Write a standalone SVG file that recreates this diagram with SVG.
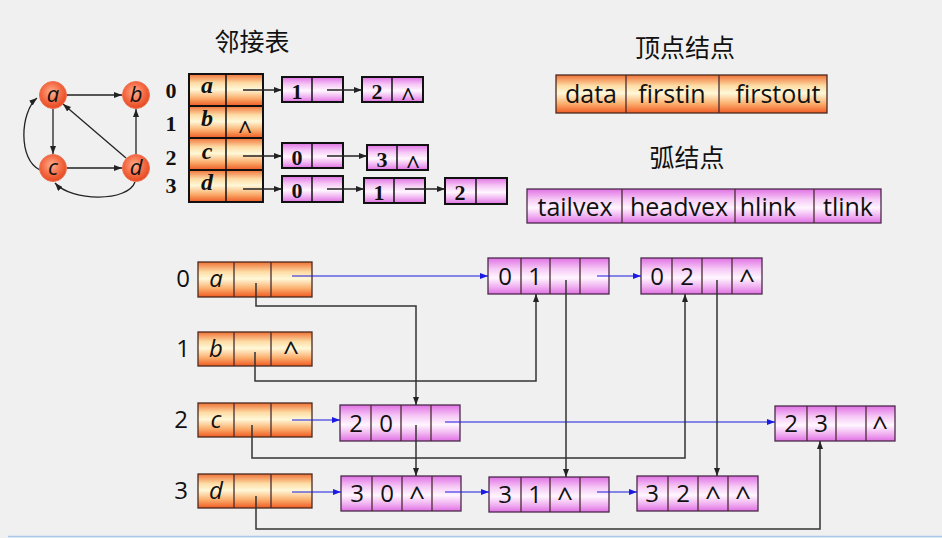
<svg xmlns="http://www.w3.org/2000/svg" width="942" height="538" viewBox="0 0 942 538">
<defs>
<linearGradient id="vg" x1="0" y1="0" x2="0" y2="1">
<stop offset="0" stop-color="#f07035"/>
<stop offset="0.28" stop-color="#fddca4"/>
<stop offset="0.48" stop-color="#fff8d8"/>
<stop offset="0.75" stop-color="#fbb070"/>
<stop offset="1" stop-color="#f05a22"/>
</linearGradient>
<linearGradient id="pg" x1="0" y1="0" x2="0" y2="1">
<stop offset="0" stop-color="#e070e4"/>
<stop offset="0.3" stop-color="#f6c8f6"/>
<stop offset="0.55" stop-color="#fff6ff"/>
<stop offset="0.8" stop-color="#f0b0f0"/>
<stop offset="1" stop-color="#e070e4"/>
</linearGradient>
<radialGradient id="cg" cx="0.45" cy="0.4" r="0.6">
<stop offset="0" stop-color="#ffb090"/>
<stop offset="0.6" stop-color="#f46a44"/>
<stop offset="1" stop-color="#e44820"/>
</radialGradient>
<marker id="ak" markerWidth="8" markerHeight="6" refX="8" refY="3" orient="auto" markerUnits="userSpaceOnUse">
<path d="M0,0 L8,3 L0,6 z" fill="#222"/>
</marker>
<marker id="ab" markerWidth="8" markerHeight="6" refX="8" refY="3" orient="auto" markerUnits="userSpaceOnUse">
<path d="M0,0 L8,3 L0,6 z" fill="#1a1ae0"/>
</marker>
</defs>
<style>
.bg{fill:#f0f0f0}
.v{fill:url(#vg);stroke:#4a2a20;stroke-width:1.3}
.p{fill:url(#pg);stroke:#4a2a4a;stroke-width:1.3}
.vt{fill:url(#vg);stroke:#111;stroke-width:2}
.pt{fill:url(#pg);stroke:#111;stroke-width:2}
.dv{stroke:#4a2a30;stroke-width:1.3}
.dt{stroke:#111;stroke-width:1.5}
.s{font-family:"Open Sans","Noto Sans",sans-serif;fill:#111}
.si{font-family:"Open Sans","Noto Sans",sans-serif;font-style:italic;fill:#111}
.sr{font-family:"Liberation Serif","Times New Roman",serif;font-weight:bold;fill:#111}
.sri{font-family:"Liberation Serif","Times New Roman",serif;font-weight:bold;font-style:italic;fill:#111}
.cjk{font-family:"Noto Sans CJK SC","Noto Sans",sans-serif;fill:#111}
.k{fill:none;stroke:#333;stroke-width:1.5}
.kb{fill:none;stroke:#1a1ae0;stroke-width:1.2}
.g{fill:none;stroke:#222;stroke-width:1.3}
.c{fill:url(#cg);stroke:#f07050;stroke-width:1}
</style>
<rect class="bg" x="0" y="0" width="942" height="538"/>
<line x1="8" y1="536.5" x2="942" y2="536.5" stroke="#a8c8ea" stroke-width="1.5"/>

<!-- small graph -->
<g id="graph-edges">
<line class="g" x1="66" y1="95" x2="122" y2="95" marker-end="url(#ak)"/>
<line class="g" x1="53" y1="109" x2="53" y2="154" marker-end="url(#ak)"/>
<line class="g" x1="126" y1="158" x2="63" y2="104" marker-end="url(#ak)"/>
<line class="g" x1="136" y1="155" x2="136" y2="109" marker-end="url(#ak)"/>
<line class="g" x1="67" y1="168" x2="122" y2="168" marker-end="url(#ak)"/>
<path class="g" d="M40,170 C18,160 20,112 37,98" marker-end="url(#ak)"/>
<path class="g" d="M135,182 C128,202 72,202 55,183" marker-end="url(#ak)"/>
</g>
<g id="gn-a"><circle class="c" cx="53" cy="95" r="13.5"/><text class="si" x="53" y="102" font-size="22" text-anchor="middle">a</text></g>
<g id="gn-b"><circle class="c" cx="136" cy="95" r="13.5"/><text class="si" x="136" y="102" font-size="22" text-anchor="middle">b</text></g>
<g id="gn-c"><circle class="c" cx="53" cy="168" r="13.5"/><text class="si" x="53" y="175" font-size="22" text-anchor="middle">c</text></g>
<g id="gn-d"><circle class="c" cx="136" cy="168" r="13.5"/><text class="si" x="136" y="175" font-size="22" text-anchor="middle">d</text></g>

<!-- adjacency list -->
<text class="cjk" x="252" y="51" font-size="25" text-anchor="middle">邻接表</text>
<g id="adj-table">
<rect class="vt" x="189" y="74" width="74" height="32"/>
<rect class="vt" x="189" y="106" width="74" height="32"/>
<rect class="vt" x="189" y="138" width="74" height="32"/>
<rect class="vt" x="189" y="170" width="74" height="32"/>
<line class="dt" x1="226" y1="74" x2="226" y2="202"/>
<text class="sr" x="171" y="98" font-size="22" text-anchor="middle">0</text>
<text class="sr" x="171" y="131" font-size="22" text-anchor="middle">1</text>
<text class="sr" x="171" y="165" font-size="22" text-anchor="middle">2</text>
<text class="sr" x="171" y="193" font-size="22" text-anchor="middle">3</text>
<text class="sri" x="207" y="93" font-size="24" text-anchor="middle">a</text>
<text class="sri" x="207" y="126" font-size="24" text-anchor="middle">b</text>
<text class="sri" x="207" y="159" font-size="24" text-anchor="middle">c</text>
<text class="sri" x="207" y="190" font-size="24" text-anchor="middle">d</text>
<text class="sr" x="245" y="138" font-size="26" text-anchor="middle">^</text>
</g>
<g id="adj-0-1"><rect class="pt" x="282" y="77" width="61" height="25"/><line class="dt" x1="312" y1="77" x2="312" y2="102"/><text class="sr" x="297" y="99" font-size="22" text-anchor="middle">1</text></g>
<g id="adj-0-2"><rect class="pt" x="362" y="77" width="61" height="25"/><line class="dt" x1="392" y1="77" x2="392" y2="102"/><text class="sr" x="377" y="99" font-size="22" text-anchor="middle">2</text><text class="sr" x="408" y="105" font-size="26" text-anchor="middle">^</text></g>
<g id="adj-2-1"><rect class="pt" x="282" y="143" width="61" height="25"/><line class="dt" x1="312" y1="143" x2="312" y2="168"/><text class="sr" x="297" y="165" font-size="22" text-anchor="middle">0</text></g>
<g id="adj-2-2"><rect class="pt" x="367" y="145" width="61" height="25"/><line class="dt" x1="397" y1="145" x2="397" y2="170"/><text class="sr" x="382" y="167" font-size="22" text-anchor="middle">3</text><text class="sr" x="413" y="173" font-size="26" text-anchor="middle">^</text></g>
<g id="adj-3-1"><rect class="pt" x="282" y="176" width="61" height="26"/><line class="dt" x1="312" y1="176" x2="312" y2="202"/><text class="sr" x="297" y="198" font-size="22" text-anchor="middle">0</text></g>
<g id="adj-3-2"><rect class="pt" x="364" y="178" width="61" height="25"/><line class="dt" x1="394" y1="178" x2="394" y2="203"/><text class="sr" x="379" y="200" font-size="22" text-anchor="middle">1</text></g>
<g id="adj-3-3"><rect class="pt" x="445" y="178" width="62" height="26"/><line class="dt" x1="476" y1="178" x2="476" y2="204"/><text class="sr" x="460" y="200" font-size="22" text-anchor="middle">2</text></g>
<g id="adj-connectors">
<line class="g" x1="243" y1="90" x2="282" y2="90" marker-end="url(#ak)"/>
<line class="g" x1="327" y1="90" x2="362" y2="90" marker-end="url(#ak)"/>
<line class="g" x1="243" y1="156" x2="282" y2="156" marker-end="url(#ak)"/>
<line class="g" x1="327" y1="156" x2="367" y2="156" marker-end="url(#ak)"/>
<line class="g" x1="243" y1="189" x2="282" y2="189" marker-end="url(#ak)"/>
<line class="g" x1="327" y1="189" x2="364" y2="189" marker-end="url(#ak)"/>
<line class="g" x1="405" y1="189" x2="445" y2="189" marker-end="url(#ak)"/>
</g>

<!-- legend -->
<text class="cjk" x="685" y="57" font-size="25" text-anchor="middle">顶点结点</text>
<g id="vertex-legend">
<rect class="v" x="556" y="75" width="271" height="38"/>
<line class="dv" x1="626" y1="75" x2="626" y2="113"/>
<line class="dv" x1="719" y1="75" x2="719" y2="113"/>
<text class="s" x="591" y="103" font-size="25" text-anchor="middle">data</text>
<text class="s" x="672" y="103" font-size="25" text-anchor="middle">firstin</text>
<text class="s" x="778" y="103" font-size="25" text-anchor="middle">firstout</text>
</g>
<text class="cjk" x="687" y="167" font-size="25" text-anchor="middle">弧结点</text>
<g id="arc-legend">
<rect class="p" x="527" y="189" width="354" height="34"/>
<line class="dv" x1="622" y1="189" x2="622" y2="223"/>
<line class="dv" x1="735" y1="189" x2="735" y2="223"/>
<line class="dv" x1="814" y1="189" x2="814" y2="223"/>
<text class="s" x="575" y="216" font-size="25" text-anchor="middle">tailvex</text>
<text class="s" x="679" y="216" font-size="25" text-anchor="middle">headvex</text>
<text class="s" x="768" y="216" font-size="25" text-anchor="middle">hlink</text>
<text class="s" x="848" y="216" font-size="25" text-anchor="middle">tlink</text>
</g>

<!-- orthogonal list vertices -->
<g id="v0">
<text class="s" x="183" y="287" font-size="24" text-anchor="middle">0</text>
<rect class="v" x="198" y="262" width="114" height="35"/>
<line class="dv" x1="234" y1="262" x2="234" y2="297"/><line class="dv" x1="271" y1="262" x2="271" y2="297"/>
<text class="si" x="216" y="287" font-size="24" text-anchor="middle">a</text>
</g>
<g id="v1">
<text class="s" x="183" y="357" font-size="24" text-anchor="middle">1</text>
<rect class="v" x="198" y="332" width="114" height="34"/>
<line class="dv" x1="234" y1="332" x2="234" y2="366"/><line class="dv" x1="271" y1="332" x2="271" y2="366"/>
<text class="si" x="216" y="357" font-size="24" text-anchor="middle">b</text>
<text class="s" x="291" y="361" font-size="28" text-anchor="middle">^</text>
</g>
<g id="v2">
<text class="s" x="181" y="428" font-size="24" text-anchor="middle">2</text>
<rect class="v" x="198" y="403" width="114" height="34"/>
<line class="dv" x1="234" y1="403" x2="234" y2="437"/><line class="dv" x1="271" y1="403" x2="271" y2="437"/>
<text class="si" x="216" y="428" font-size="24" text-anchor="middle">c</text>
</g>
<g id="v3">
<text class="s" x="181" y="499" font-size="24" text-anchor="middle">3</text>
<rect class="v" x="198" y="474" width="114" height="34"/>
<line class="dv" x1="234" y1="474" x2="234" y2="508"/><line class="dv" x1="271" y1="474" x2="271" y2="508"/>
<text class="si" x="216" y="499" font-size="24" text-anchor="middle">d</text>
</g>

<!-- arc nodes -->
<g id="arc01">
<rect class="p" x="488" y="258" width="121" height="36"/>
<line class="dv" x1="521" y1="258" x2="521" y2="294"/><line class="dv" x1="550" y1="258" x2="550" y2="294"/><line class="dv" x1="580" y1="258" x2="580" y2="294"/>
<text class="s" x="505" y="285" font-size="24" text-anchor="middle">0</text>
<text class="s" x="535" y="285" font-size="24" text-anchor="middle">1</text>
</g>
<g id="arc02">
<rect class="p" x="641" y="258" width="121" height="36"/>
<line class="dv" x1="672" y1="258" x2="672" y2="294"/><line class="dv" x1="702" y1="258" x2="702" y2="294"/><line class="dv" x1="732" y1="258" x2="732" y2="294"/>
<text class="s" x="657" y="285" font-size="24" text-anchor="middle">0</text>
<text class="s" x="687" y="285" font-size="24" text-anchor="middle">2</text>
<text class="s" x="747" y="289" font-size="28" text-anchor="middle">^</text>
</g>
<g id="arc20">
<rect class="p" x="340" y="405" width="120" height="36"/>
<line class="dv" x1="371" y1="405" x2="371" y2="441"/><line class="dv" x1="401" y1="405" x2="401" y2="441"/><line class="dv" x1="431" y1="405" x2="431" y2="441"/>
<text class="s" x="356" y="432" font-size="24" text-anchor="middle">2</text>
<text class="s" x="386" y="432" font-size="24" text-anchor="middle">0</text>
</g>
<g id="arc23">
<rect class="p" x="775" y="406" width="120" height="35"/>
<line class="dv" x1="807" y1="406" x2="807" y2="441"/><line class="dv" x1="836" y1="406" x2="836" y2="441"/><line class="dv" x1="866" y1="406" x2="866" y2="441"/>
<text class="s" x="791" y="432" font-size="24" text-anchor="middle">2</text>
<text class="s" x="821" y="432" font-size="24" text-anchor="middle">3</text>
<text class="s" x="880" y="436" font-size="28" text-anchor="middle">^</text>
</g>
<g id="arc30">
<rect class="p" x="341" y="476" width="120" height="35"/>
<line class="dv" x1="372" y1="476" x2="372" y2="511"/><line class="dv" x1="402" y1="476" x2="402" y2="511"/><line class="dv" x1="432" y1="476" x2="432" y2="511"/>
<text class="s" x="357" y="502" font-size="24" text-anchor="middle">3</text>
<text class="s" x="387" y="502" font-size="24" text-anchor="middle">0</text>
<text class="s" x="417" y="506" font-size="28" text-anchor="middle">^</text>
</g>
<g id="arc31">
<rect class="p" x="489" y="477" width="120" height="35"/>
<line class="dv" x1="521" y1="477" x2="521" y2="512"/><line class="dv" x1="550" y1="477" x2="550" y2="512"/><line class="dv" x1="580" y1="477" x2="580" y2="512"/>
<text class="s" x="505" y="503" font-size="24" text-anchor="middle">3</text>
<text class="s" x="535" y="503" font-size="24" text-anchor="middle">1</text>
<text class="s" x="565" y="507" font-size="28" text-anchor="middle">^</text>
</g>
<g id="arc32">
<rect class="p" x="637" y="476" width="121" height="35"/>
<line class="dv" x1="668" y1="476" x2="668" y2="511"/><line class="dv" x1="698" y1="476" x2="698" y2="511"/><line class="dv" x1="728" y1="476" x2="728" y2="511"/>
<text class="s" x="652" y="502" font-size="24" text-anchor="middle">3</text>
<text class="s" x="683" y="502" font-size="24" text-anchor="middle">2</text>
<text class="s" x="713" y="506" font-size="28" text-anchor="middle">^</text>
<text class="s" x="743" y="506" font-size="28" text-anchor="middle">^</text>
</g>

<!-- connectors -->
<g id="connectors">
<line class="kb" x1="292" y1="276" x2="488" y2="276" marker-end="url(#ab)"/>
<line class="kb" x1="597" y1="276" x2="641" y2="276" marker-end="url(#ab)"/>
<line class="kb" x1="292" y1="420" x2="340" y2="420" marker-end="url(#ab)"/>
<line class="kb" x1="445" y1="422" x2="775" y2="422" marker-end="url(#ab)"/>
<line class="kb" x1="292" y1="492" x2="341" y2="492" marker-end="url(#ab)"/>
<line class="kb" x1="445" y1="492" x2="489" y2="492" marker-end="url(#ab)"/>
<line class="kb" x1="597" y1="492" x2="637" y2="492" marker-end="url(#ab)"/>
<polyline class="k" points="256,283 256,306 416,306 416,405" marker-end="url(#ak)"/>
<polyline class="k" points="255,352 255,381 536,381 536,294" marker-end="url(#ak)"/>
<line class="k" x1="416" y1="425" x2="416" y2="476" marker-end="url(#ak)"/>
<polyline class="k" points="252,425 252,458 685,458 685,294" marker-end="url(#ak)"/>
<line class="k" x1="566" y1="280" x2="566" y2="477" marker-end="url(#ak)"/>
<line class="k" x1="717" y1="280" x2="717" y2="476" marker-end="url(#ak)"/>
<polyline class="k" points="256,496 256,529 820,529 820,441" marker-end="url(#ak)"/>
</g>
</svg>
